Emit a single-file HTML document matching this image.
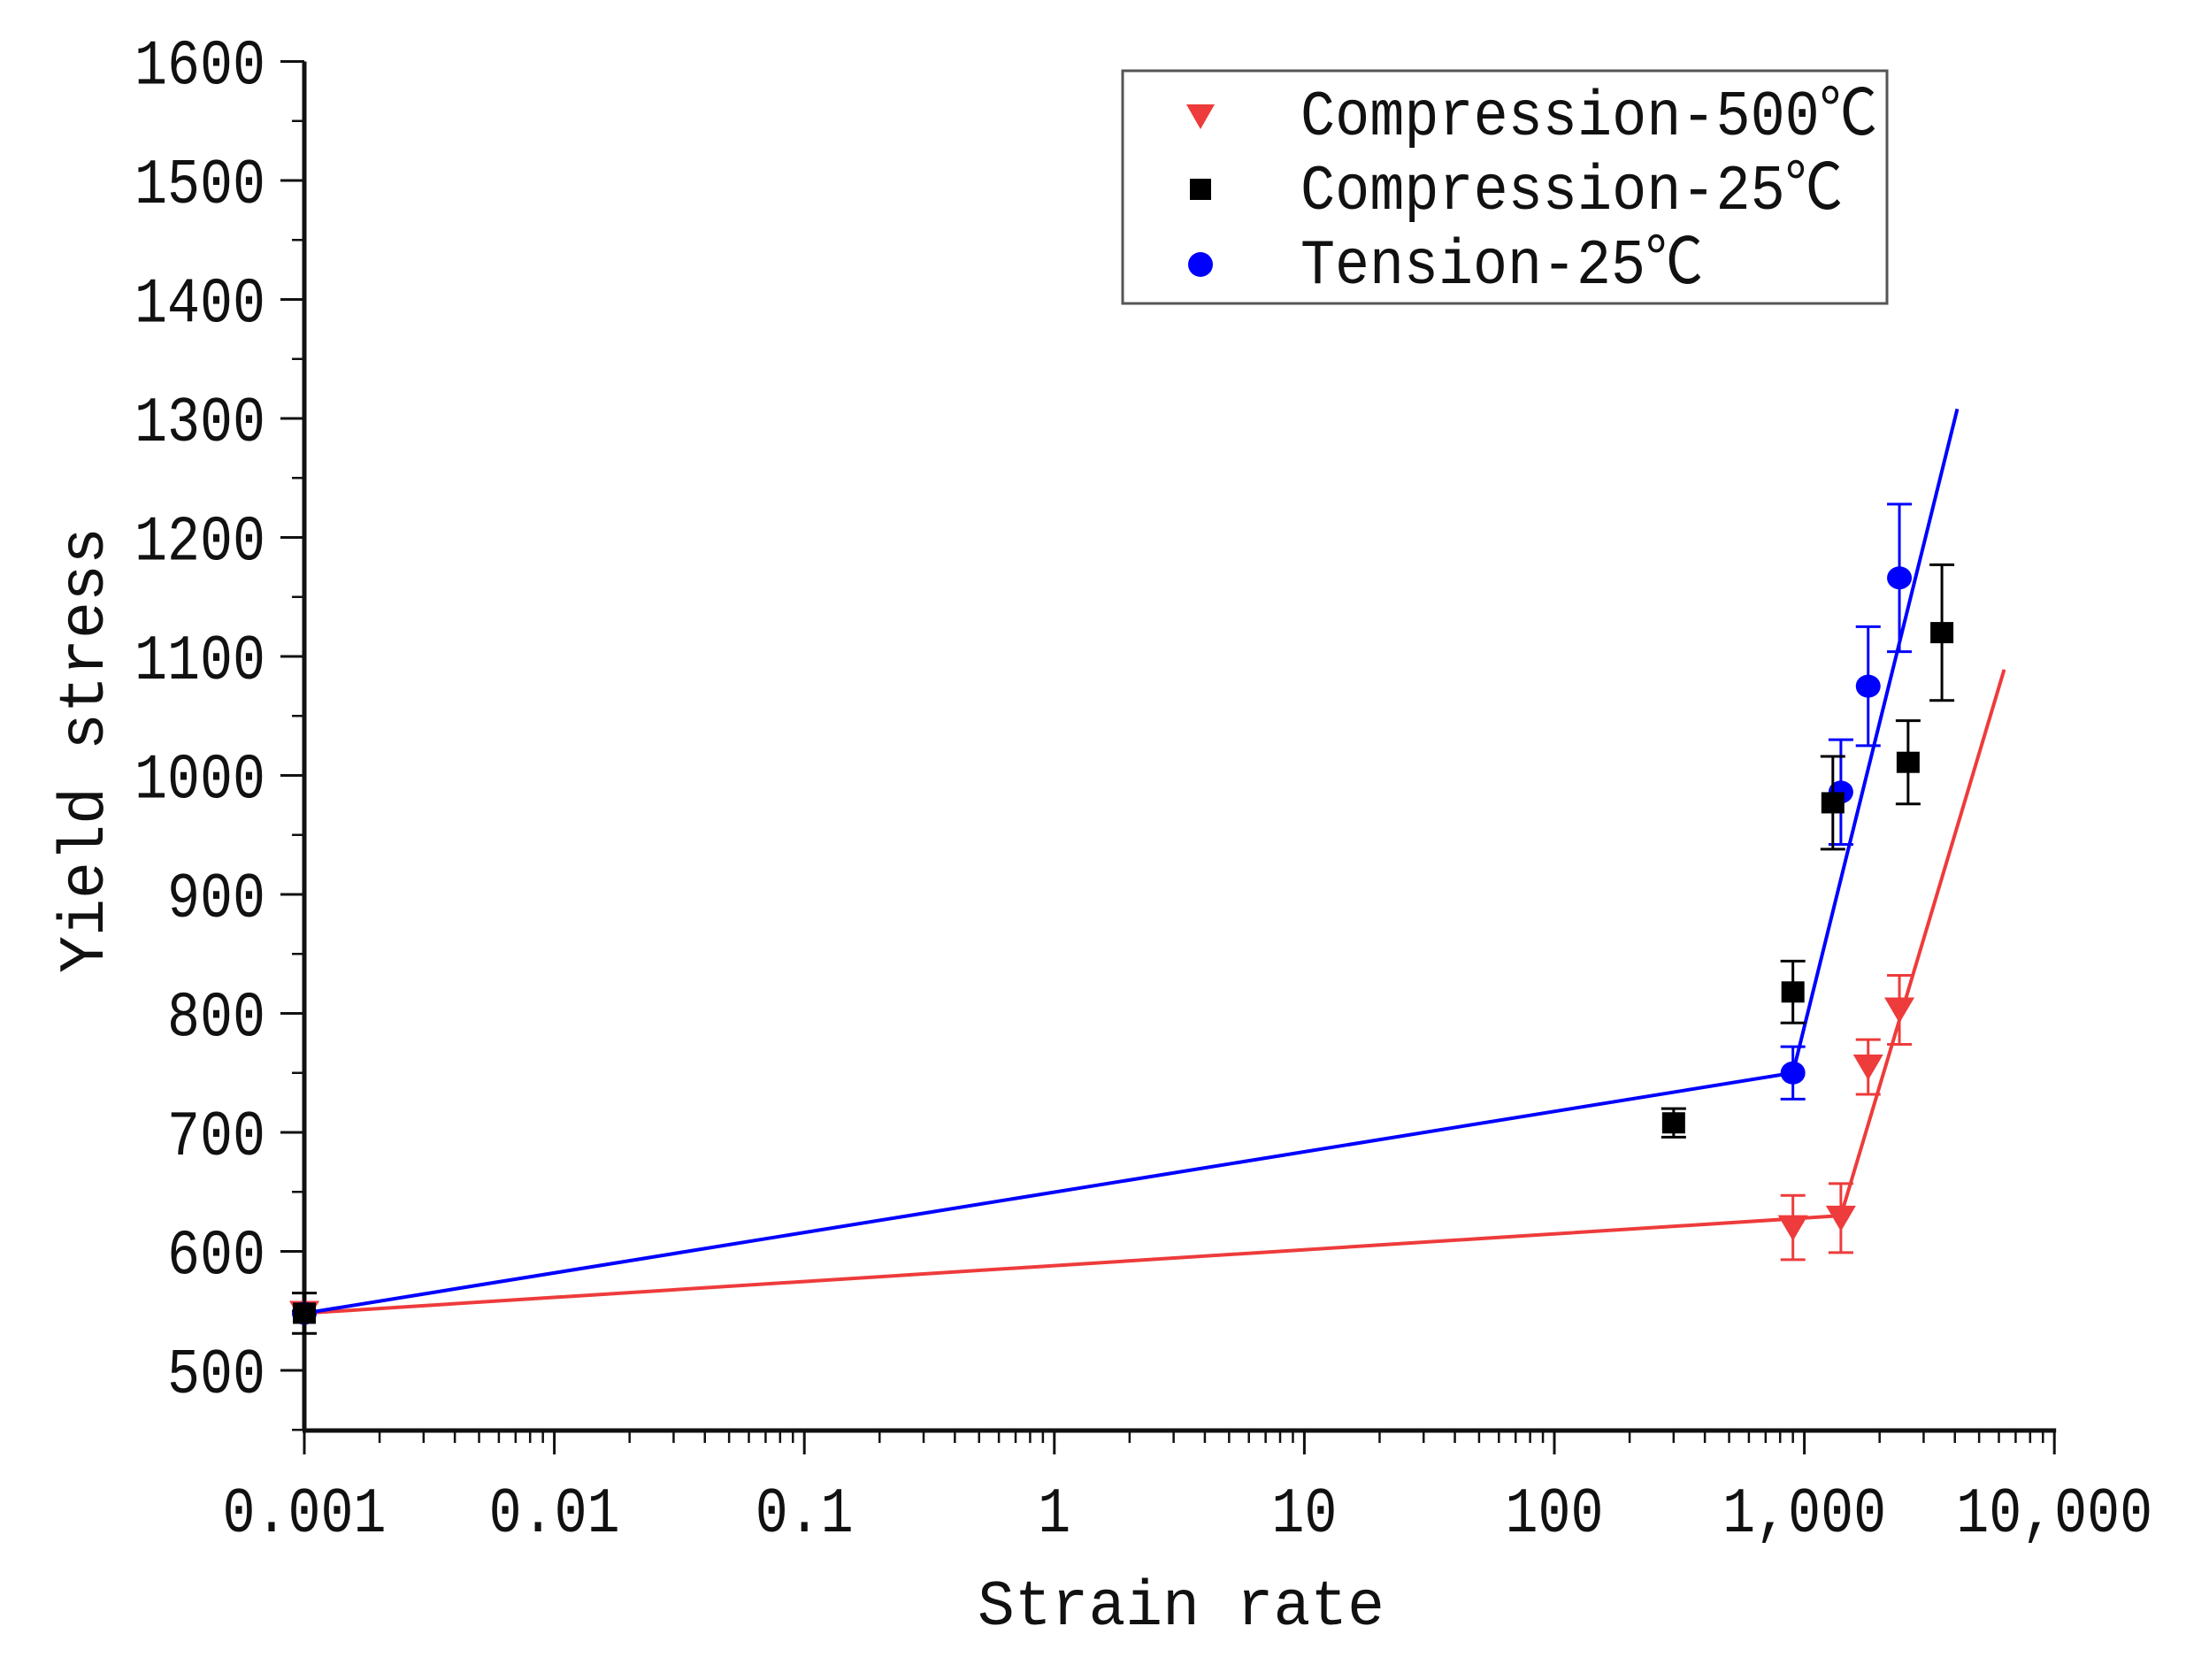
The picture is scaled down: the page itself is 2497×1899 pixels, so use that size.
<!DOCTYPE html>
<html><head><meta charset="utf-8"><style>
html,body{margin:0;padding:0;background:#fff;}
svg{display:block;}
text{font-family:"Liberation Mono","Noto Sans CJK SC",monospace;fill:#111;}
</style></head><body>
<svg id="chart" width="2497" height="1899" viewBox="0 0 2497 1899" xmlns="http://www.w3.org/2000/svg">
<g id="axes"></g>
<g id="lines"></g>
<g id="marks"></g>
<text x="1335" y="1836" font-size="72" text-anchor="middle" textLength="460" lengthAdjust="spacingAndGlyphs">Strain rate</text>
<text transform="translate(116,848) rotate(-90)" font-size="72" text-anchor="middle" textLength="504" lengthAdjust="spacingAndGlyphs">Yield stress</text>
<g>
<rect x="1269" y="80" width="864" height="263" fill="#fff" stroke="#555" stroke-width="3"/>
<polygon points="1341,118 1373,118 1357,146" fill="#ee3b3b"/>
<rect x="1345" y="202" width="24" height="24" fill="#000"/>
<circle cx="1357" cy="299" r="14" fill="#0000ff"/>
<text x="1470" y="152" font-size="72" textLength="652" lengthAdjust="spacingAndGlyphs">Compression-500℃</text>
<text x="1470" y="236" font-size="72" textLength="613" lengthAdjust="spacingAndGlyphs">Compression-25℃</text>
<text x="1470" y="320" font-size="72" textLength="455" lengthAdjust="spacingAndGlyphs">Tension-25℃</text>
</g>
</svg>
<script>
// ---- data ----
const xTickValues = [0.001, 0.01, 0.1, 1, 10, 100, 1000, 10000];
const xTickLabels = ["0.001", "0.01", "0.1", "1", "10", "100", "1,000", "10,000"];
const yTickValues = [500, 600, 700, 800, 900, 1000, 1100, 1200, 1300, 1400, 1500, 1600];
const redX = [0.001, 900, 1400, 1800, 2400];
const redY = [548, 620, 628, 755, 803];
const redErr = [0, 27, 29, 23, 29];
const blackX = [0.001, 300, 900, 1300, 2600, 3550];
const blackY = [548, 708, 818, 977, 1011, 1120];
const blackErr = [17, 12, 26, 39, 35, 57];
const blueX = [0.001, 900, 1400, 1800, 2400];
const blueY = [548, 750, 986, 1075, 1166];
const blueErr = [0, 22, 44, 50, 62];
const redFitX = [0.001, 1400, 6300];
const redFitY = [548, 630, 1089];
const blueFitX = [0.001, 900, 4090];
const blueFitY = [548, 750, 1308];

// ---- scales ----
const X0 = 344, DEC = 282.6, Y500 = 1549, PER100 = 134.5;
function sx(v){ return X0 + (Math.log10(v) + 3) * DEC; }
function sy(v){ return Y500 - (v - 500) / 100 * PER100; }
const NS = "http://www.w3.org/2000/svg";
function mk(tag, attrs, parent){
  const e = document.createElementNS(NS, tag);
  for (const k in attrs) e.setAttribute(k, attrs[k]);
  parent.appendChild(e); return e;
}
const axes = document.getElementById('axes');
const axisY = 1617, axisTop = sy(1600);

const xl = mk('line', {x1: X0-2, y1: axisY, x2: sx(10000)+2, y2: axisY, stroke: '#111', 'stroke-width': 5}, axes);


const yl = mk('line', {x1: X0, y1: axisTop, x2: X0, y2: axisY, stroke: '#111', 'stroke-width': 5}, axes);



xTickValues.forEach((v, i) => {
  const x = sx(v);
  const t = mk('line', {x1: x, y1: axisY, x2: x, y2: axisY + 27, stroke: '#111', 'stroke-width': 3}, axes);
  
  
  const lb = mk('text', {x: x, y: 1731, 'font-size': 72, 'text-anchor': 'middle', textLength: xTickLabels[i].length * 37, lengthAdjust: 'spacingAndGlyphs'}, axes);
  lb.textContent = xTickLabels[i];
  
  
  if (i < xTickValues.length - 1) {
    for (let m = 2; m <= 9; m++) {
      const mx = sx(v * m);
      const mt = mk('line', {x1: mx, y1: axisY, x2: mx, y2: axisY + 14, stroke: '#111', 'stroke-width': 2.5}, axes);
      
      
    }
  }
});
yTickValues.forEach((v) => {
  const y = sy(v);
  const t = mk('line', {x1: X0 - 27, y1: y, x2: X0, y2: y, stroke: '#111', 'stroke-width': 3}, axes);
  
  
  const lb = mk('text', {x: 300, y: y + 25, 'font-size': 72, 'text-anchor': 'end', textLength: String(v).length * 37, lengthAdjust: 'spacingAndGlyphs'}, axes);
  lb.textContent = v;
  
  
  const my = sy(v - 50);
  const mt = mk('line', {x1: X0 - 14, y1: my, x2: X0, y2: my, stroke: '#111', 'stroke-width': 2.5}, axes);
  
  
});

const lines = document.getElementById('lines');
function fit(xs, ys, color, name){
  const pts = xs.map((x, i) => sx(x) + ',' + sy(ys[i])).join(' ');
  const p = mk('polyline', {points: pts, fill: 'none', stroke: color, 'stroke-width': 4}, lines);
  
  
}
fit(redFitX, redFitY, '#ee3b3b', 'fit-line-compression-500');
fit(blueFitX, blueFitY, '#0000ff', 'fit-line-tension-25');

const marks = document.getElementById('marks');
function series(xs, ys, errs, color, shape, name){
  xs.forEach((xv, i) => {
    const x = sx(xv), y = sy(ys[i]);
    if (errs[i] > 0) {
      const y1 = sy(ys[i] + errs[i]), y2 = sy(ys[i] - errs[i]);
      const e = mk('path', {d: `M${x},${y1}V${y2}M${x-14},${y1}H${x+14}M${x-14},${y2}H${x+14}`, stroke: color, 'stroke-width': 3, fill: 'none'}, marks);
      
      
    }
    let m;
    if (shape === 'tri') m = mk('polygon', {points: `${x-17},${y-14} ${x+17},${y-14} ${x},${y+15}`, fill: color}, marks);
    else if (shape === 'sq') m = mk('rect', {x: x-13, y: y-12, width: 26, height: 24, fill: color}, marks);
    else m = mk('ellipse', {cx: x, cy: y, rx: 14, ry: 13, fill: color}, marks);
    
    
  });
}
series(redX, redY, redErr, '#ee3b3b', 'tri', 'compression-500');
series(blueX, blueY, blueErr, '#0000ff', 'circ', 'tension-25');
series(blackX, blackY, blackErr, '#000', 'sq', 'compression-25');
</script>
</body></html>
